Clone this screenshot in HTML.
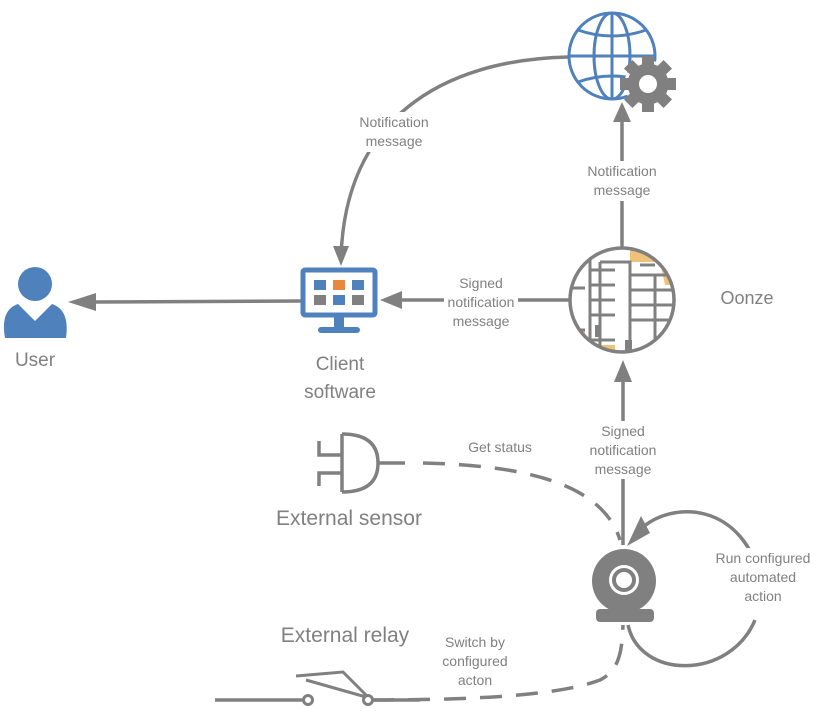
<!DOCTYPE html>
<html><head><style>
body{margin:0;background:#fff;}
svg text{font-family:"Liberation Sans",sans-serif;fill:#808080;}
</style></head><body>
<svg width="819" height="706" viewBox="0 0 819 706" xmlns="http://www.w3.org/2000/svg">
<g stroke="#808080" stroke-width="3.5" fill="none">
<path d="M568,57 C440,60 345,120 341,258"/>
<line x1="622" y1="250" x2="622" y2="120"/>
<line x1="569" y1="300" x2="400" y2="300"/>
<line x1="301" y1="301" x2="92" y2="302"/>
<line x1="623" y1="545" x2="623" y2="378"/>
<path d="M423,463 C500,465 600,475 620,540" stroke-dasharray="22,14"/>
<path d="M372,700 C480,700 560,695 600,680 C620,670 622,650 623,625" stroke-dasharray="22,14"/>
<path d="M628,625 C640,680 730,680 755,620"/>
<path d="M762,585 C745,500 670,500 640,530"/>
<path d="M342,434 L342,492 M342,434 Q378,434 378,463 Q378,492 342,492 M378,463 L405,463"/>
<path d="M319,441 L319,455 L342,455 M319,486 L319,473 L342,473"/>
<line x1="215" y1="700" x2="303" y2="700"/>
<line x1="372" y1="700" x2="420" y2="700"/>
<path d="M296,676 L343,672 L368,697 M306,680 L366,697" stroke-width="3"/>
</g>
<g fill="#808080">
<path d="M333,246 L341,266 L349,246 Z"/>
<path d="M613,122 L622,102 L631,122 Z"/>
<path d="M402,291 L380,300 L402,309 Z"/>
<path d="M96,293 L68,302 L96,311 Z"/>
<path d="M614,382 L623,360 L632,382 Z"/>
<path d="M627,546 L641,516 L650,533 Z"/>
</g>
<circle cx="308" cy="700" r="4.5" fill="#fff" stroke="#808080" stroke-width="3"/>
<circle cx="368" cy="700" r="4.5" fill="#fff" stroke="#808080" stroke-width="3"/>
<!-- label backgrounds -->
<g fill="#fff">
<rect x="352" y="112" width="84" height="40"/>
<rect x="580" y="161" width="84" height="40"/>
<rect x="444" y="273" width="74" height="58"/>
<rect x="586" y="421" width="74" height="58"/>
<rect x="460" y="437" width="80" height="20"/>
<rect x="706" y="548" width="113" height="58"/>
<rect x="435" y="632" width="80" height="58"/>
</g>
<!-- globe -->
<g stroke="#4F81BD" stroke-width="3" fill="none">
<circle cx="612" cy="56" r="43"/>
<ellipse cx="612" cy="56" rx="18" ry="43"/>
<line x1="569" y1="56" x2="655" y2="56"/>
<line x1="612" y1="13" x2="612" y2="99"/>
<path d="M578,30 Q612,42 646,30 M578,82 Q612,70 646,82"/>
</g>
<g transform="translate(648,84)" fill="#808080">
<circle r="22" stroke="#fff" stroke-width="3"/>
<circle r="20"/>
<g id="t"><rect x="-6" y="-28" width="12" height="12"/></g>
<use href="#t" transform="rotate(45)"/><use href="#t" transform="rotate(90)"/><use href="#t" transform="rotate(135)"/><use href="#t" transform="rotate(180)"/><use href="#t" transform="rotate(225)"/><use href="#t" transform="rotate(270)"/><use href="#t" transform="rotate(315)"/>
<circle r="9" fill="#fff"/>
</g>
<!-- oonze -->
<clipPath id="oc"><circle cx="622" cy="300" r="52"/></clipPath>
<g clip-path="url(#oc)">
<rect x="570" y="248" width="104" height="104" fill="#fff"/>
<path d="M630,250 L680,250 L680,285 L665,285 L660,262 L630,262 Z" fill="#EFC27A"/>
<path d="M570,330 L585,330 L585,352 L570,352 Z M590,345 L615,345 L615,352 L590,352 Z" fill="#EFC27A"/>
<g stroke="#808080" stroke-width="3" fill="none">
<path d="M590,255 L590,352 M590,270 L615,270 M590,285 L615,285 M590,300 L615,300 M590,315 L615,315 M570,288 L585,288 M570,330 L585,330 M590,340 L615,340"/>
<path d="M600,262 L630,262 L630,352 M630,275 L655,275 L655,352 M630,290 L655,290 M630,305 L655,305 M630,320 L655,320 M655,290 L680,290 M655,305 L680,305 M655,320 L680,320 M655,340 L680,340 M655,275 L680,275"/>
<path d="M600,262 L600,352 M640,265 L655,265"/>
</g>
<rect x="595" y="325" width="6" height="12" fill="#808080"/>
<rect x="625" y="340" width="7" height="12" fill="#808080"/>
</g>
<circle cx="622" cy="300" r="52" fill="none" stroke="#808080" stroke-width="3.5"/>
<!-- client monitor -->
<rect x="303" y="270" width="72" height="45" fill="#fff" stroke="#4F81BD" stroke-width="5" rx="2"/>
<rect x="314" y="280" width="12" height="10" fill="#4F81BD"/>
<rect x="333" y="280" width="12" height="10" fill="#E8883F"/>
<rect x="352" y="280" width="12" height="10" fill="#4F81BD"/>
<rect x="314" y="295" width="12" height="10" fill="#808080"/>
<rect x="333" y="295" width="12" height="10" fill="#4F81BD"/>
<rect x="352" y="295" width="12" height="10" fill="#808080"/>
<rect x="334" y="317" width="10" height="10" fill="#4F81BD"/>
<rect x="318" y="327" width="42" height="6" rx="3" fill="#4F81BD"/>
<!-- user -->
<circle cx="35" cy="284" r="17" fill="#4F81BD"/>
<path d="M5,338 Q0,310 18,304 L35,321 L52,304 Q70,310 66,338 Z" fill="#4F81BD"/>
<!-- webcam -->
<circle cx="624" cy="581" r="32" fill="#808080"/>
<circle cx="624" cy="580" r="15" fill="#fff"/>
<circle cx="624" cy="580" r="12" fill="#808080"/>
<circle cx="624" cy="580" r="8" fill="#fff"/>
<rect x="596" y="609" width="58" height="13" rx="4" fill="#808080"/>
<!-- labels -->
<g font-size="14" text-anchor="middle">
<text x="394" y="127">Notification</text><text x="394" y="146">message</text>
<text x="622" y="176">Notification</text><text x="622" y="195">message</text>
<text x="481" y="288">Signed</text><text x="481" y="307">notification</text><text x="481" y="326">message</text>
<text x="623" y="436">Signed</text><text x="623" y="455">notification</text><text x="623" y="474">message</text>
<text x="500" y="452">Get status</text>
<text x="763" y="563">Run configured</text><text x="763" y="582">automated</text><text x="763" y="601">action</text>
<text x="475" y="647">Switch by</text><text x="475" y="666">configured</text><text x="475" y="685">acton</text>
</g>
<g font-size="19" text-anchor="middle">
<text x="35" y="366" font-family="'DejaVu Sans',sans-serif">User</text>
<text x="340" y="370" font-family="'DejaVu Sans',sans-serif">Client</text>
<text x="340" y="398" font-family="'DejaVu Sans',sans-serif">software</text>
<text x="747" y="304" font-family="'DejaVu Sans',sans-serif" font-size="18">Oonze</text>
</g>
<text x="349" y="525" font-size="21" text-anchor="middle">External sensor</text>
<text x="345" y="642" font-size="21" text-anchor="middle">External relay</text>
</svg>
</body></html>
